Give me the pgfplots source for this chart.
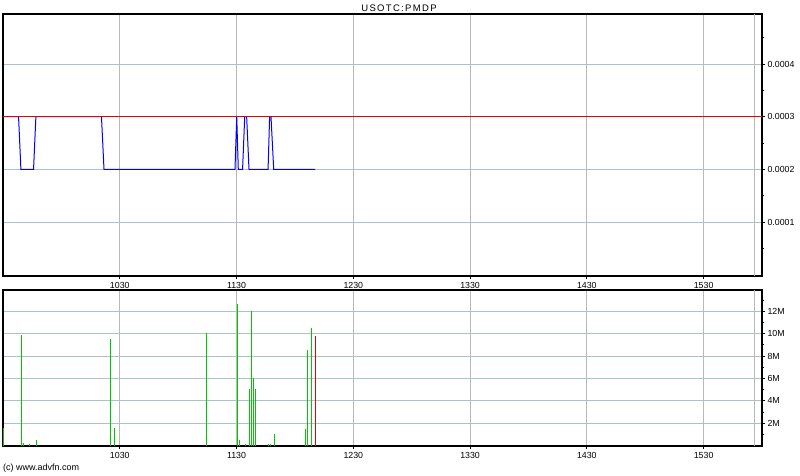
\documentclass[border=0pt]{standalone}
\usepackage{pgfplots}
\pgfplotsset{compat=1.18}
\usepackage{fontspec}
\setmainfont{Liberation Sans}
\newfontfamily\titlefont[LetterSpace=14]{Liberation Sans}
\definecolor{vgrid}{RGB}{185,185,185}
\definecolor{hgrid}{RGB}{170,195,200}
\definecolor{volgreen}{RGB}{0,200,0}
\definecolor{pricered}{RGB}{230,0,0}
\definecolor{priceblue}{RGB}{0,0,255}
\pgfplotsset{chartbase/.style={
  scale only axis, width=759pt, xmin=570, xmax=960,
  axis line style={line width=1.2pt, black},
  xtick={630,690,750,810,870,930},
  xticklabels={1030,1130,1230,1330,1430,1530},
  extra x ticks={956}, extra x tick labels={},
  extra x tick style={grid=major, major tick length=0pt},
  xmajorgrids, ymajorgrids,
  x grid style={vgrid, line width=1pt},
  y grid style={hgrid, line width=1pt},
  xtick pos=bottom, ytick pos=right, yticklabel pos=right,
  tick align=outside,
  major tick length=3pt, minor tick length=2pt,
  tick style={black, line width=0.8pt},
  ticklabel style={font=\fontsize{8.8}{10}\selectfont},
  yticklabel style={xshift=-1pt},
  scaled y ticks=false,
  clip=true,
  anchor=south west,
}}
\begin{document}
\begin{tikzpicture}
\path[use as bounding box] (0,0) rectangle (800pt,475pt);
\begin{axis}[chartbase, at={(3pt,199pt)}, height=262pt,
  ymin=-0.0000025, ymax=0.000495,
  ytick={0.0001,0.0002,0.0003,0.0004},
  yticklabels={0.0001,0.0002,0.0003,0.0004},
  minor ytick={0.00005,0.00015,0.00025,0.00035,0.00045}]
\addplot[priceblue, line width=1pt, mark=none] coordinates {
(570,0.0003) (578.0,0.0003) (579.2,0.0002) (585.7,0.0002) (586.9,0.0003)
(620.6,0.0003) (621.9,0.0002) (689.2,0.0002) (690.1,0.0003) (690.9,0.0002)
(693.1,0.0002) (694.2,0.0003) (695.2,0.0003) (696.4,0.0002) (706.2,0.0002)
(707.0,0.0003) (707.7,0.0003) (709.1,0.0002) (730.4,0.0002)};
\addplot[pricered, line width=1pt, mark=none] coordinates {(570,0.0003) (960,0.0003)};
\end{axis}
\begin{axis}[chartbase, at={(3pt,29pt)}, height=156pt,
  ymin=-0.03, ymax=13.9,
  ytick={2,4,6,8,10,12},
  yticklabels={2M,4M,6M,8M,10M,12M},
  minor ytick={1,3,5,7,9,11,13}]
\addplot[ycomb, volgreen, line width=1pt, mark=none] coordinates {
(570.3,1.6) (579.5,9.9) (580.5,0.24) (583.6,0.15) (587.2,0.5)
(625.3,9.5) (627.3,1.6) (674.6,10.06) (690.6,12.65) (691.6,0.5)
(694.7,0.15) (696.7,5.06) (697.8,12.0) (698.8,6.05) (699.8,5.06)
(706.5,0.15) (707.5,0.15) (709.6,1.05) (725.5,1.5) (726.6,8.55)
(728.6,10.5)};
\addplot[ycomb, pricered, line width=1pt, mark=none] coordinates {(730.7,9.8)};
\end{axis}
\node[font=\titlefont\fontsize{9.5}{10}\selectfont, inner sep=0pt] at (399pt,467pt) {USOTC:PMDP};
\node[anchor=west, font=\fontsize{9}{10}\selectfont, inner sep=0pt] at (3pt,7pt) {(c) www.advfn.com};
\end{tikzpicture}
\end{document}
